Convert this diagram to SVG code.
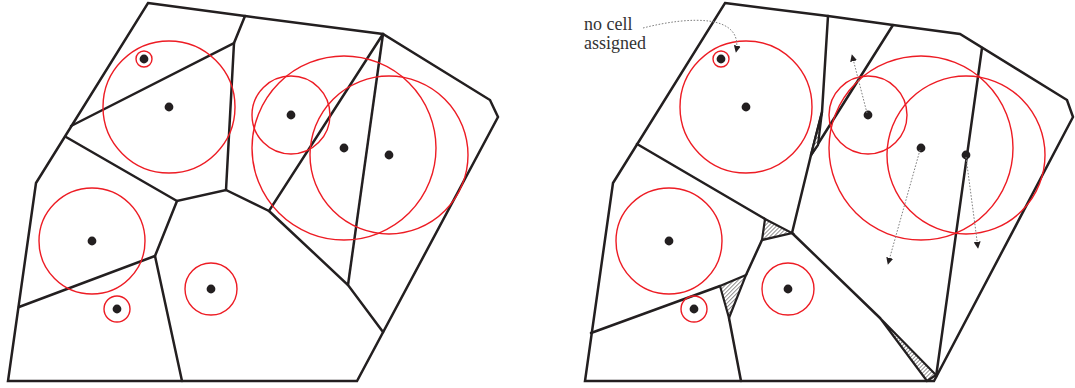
<svg xmlns="http://www.w3.org/2000/svg" width="1075" height="388" viewBox="0 0 1075 388">
  <style>
    .edge { fill: none; stroke: #231f20; stroke-width: 2.5; stroke-linejoin: miter; stroke-linecap: round; }
    .gap { fill: url(#hatch); stroke: #231f20; stroke-width: 2.2; stroke-linejoin: miter; }
    .disk { fill: none; stroke: #ed1c24; stroke-width: 1.4; }
    .site { fill: #231f20; }
    .move { fill: none; stroke: #808080; stroke-width: 1; stroke-dasharray: 1.6 1.6; }
    .note { font-family: "Liberation Serif", "Times New Roman", serif; font-size: 18px; fill: #333333; }
  </style>
  <defs>
    <pattern id="hatch" patternUnits="userSpaceOnUse" width="2.8" height="2.8" patternTransform="rotate(45)">
      <rect width="2.8" height="2.8" fill="#ffffff"/>
      <line x1="0" y1="0" x2="0" y2="2.8" stroke="#231f20" stroke-width="1"/>
    </pattern>
    <marker id="arr" viewBox="0 0 10 10" refX="9" refY="5" markerWidth="7" markerHeight="7" markerUnits="userSpaceOnUse" orient="auto">
      <path d="M0,0 L10,5 L0,10 Z" fill="#231f20"/>
    </marker>
    <g id="disks">
      <circle class="disk" cx="144" cy="59" r="8"/>
      <circle class="disk" cx="169" cy="107" r="66"/>
      <circle class="disk" cx="291" cy="115" r="39"/>
      <circle class="disk" cx="344" cy="148" r="92"/>
      <circle class="disk" cx="389" cy="155" r="79"/>
      <circle class="disk" cx="92" cy="241" r="53"/>
      <circle class="disk" cx="117" cy="309" r="13"/>
      <circle class="disk" cx="211" cy="289" r="26"/>
    </g>
    <g id="sites">
      <circle class="site" cx="144" cy="59" r="4.4"/>
      <circle class="site" cx="169" cy="107" r="4.4"/>
      <circle class="site" cx="291" cy="115" r="4.4"/>
      <circle class="site" cx="344" cy="148" r="4.4"/>
      <circle class="site" cx="389" cy="155" r="4.4"/>
      <circle class="site" cx="92" cy="241" r="4.4"/>
      <circle class="site" cx="117" cy="309" r="4.4"/>
      <circle class="site" cx="211" cy="289" r="4.4"/>
    </g>
  </defs>

  <!-- Left: Voronoi diagram -->
  <g id="left-diagram">
    <g id="left-cells">
      <polygon class="edge" points="148,3 245,16 383,34 490,100 498,117 357,381 8,381 36,183"/>
      <polyline class="edge" points="245,16 234,43 71,126"/>
      <line class="edge" x1="234" y1="43" x2="226" y2="190"/>
      <polyline class="edge" points="66,137 177,201 226,190 269,211 383,34"/>
      <line class="edge" x1="383" y1="34" x2="348" y2="285"/>
      <polyline class="edge" points="269,211 348,285 383,332"/>
      <polyline class="edge" points="177,201 155,256 19,307"/>
      <line class="edge" x1="155" y1="256" x2="182" y2="381"/>
    </g>
    <use href="#disks"/>
    <use href="#sites"/>
  </g>

  <!-- Right: power diagram -->
  <g id="right-diagram">
    <g id="right-cells">
      <polygon class="edge" points="725,3 828,16 893,25 960,34 1067,100 1073,117 934,381 585,381 613,183"/>
      <polyline class="edge" points="828,16 822,112 811,155 792,233"/>
      <line class="edge" x1="893" y1="25" x2="811" y2="155"/>
      <line class="edge" x1="637" y1="144" x2="765" y2="219"/>
      <line class="edge" x1="792" y1="233" x2="880" y2="318"/>
      <line class="edge" x1="982" y1="48" x2="936" y2="377"/>
      <line class="edge" x1="762" y1="240" x2="746" y2="275"/>
      <line class="edge" x1="591" y1="333" x2="720" y2="286"/>
      <line class="edge" x1="729" y1="318" x2="741" y2="381"/>
    </g>
    <g id="right-gaps">
      <polygon class="gap" points="822,112 818,145 811,155"/>
      <polygon class="gap" points="765,219 792,233 762,240"/>
      <polygon class="gap" points="720,286 746,275 729,318"/>
      <polygon class="gap" points="880,318 936,375 927,381"/>
    </g>
    <use href="#disks" transform="translate(577,0)"/>
    <use href="#sites" transform="translate(577,0)"/>
    <g id="moves">
      <line class="move" x1="867" y1="113" x2="852" y2="55" marker-end="url(#arr)"/>
      <line class="move" x1="920" y1="150" x2="888" y2="264" marker-end="url(#arr)"/>
      <line class="move" x1="966" y1="157" x2="978" y2="248" marker-end="url(#arr)"/>
    </g>
    <g id="annotation">
      <text class="note" x="584" y="30">no cell</text>
      <text class="note" x="584" y="49">assigned</text>
      <path class="move" d="M643,28 C690,16 744,14 736,52" marker-end="url(#arr)"/>
    </g>
  </g>
</svg>
